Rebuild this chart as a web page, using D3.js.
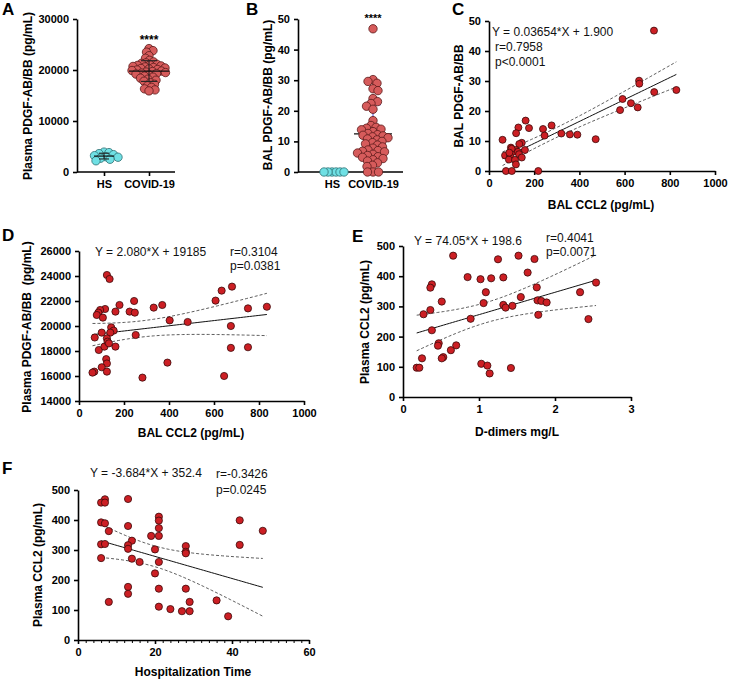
<!DOCTYPE html>
<html><head><meta charset="utf-8">
<script src="https://cdn.jsdelivr.net/npm/d3@7"></script>
<style>body{margin:0;background:#fff} text{font-family:Arial,"Liberation Sans",sans-serif}</style>
</head><body><svg id="c" width="729" height="682"></svg>
<script>
// ---------------- DATA ----------------
const groups = ["HS", "COVID-19"];
const plasmaHS = [2200, 2500, 2700, 2900, 3000, 3200, 3400, 3600, 3800, 3900];
const plasmaCovid = [24200, 23800, 23500, 22800, 22300, 21900, 21600, 21400, 21300, 21100, 21000, 20900, 20800, 20700, 20600, 20500, 20400, 20300, 20200, 20100, 20000, 19900, 19800, 19700, 19600, 19500, 19400, 19300, 19200, 19000, 18800, 18600, 18400, 18200, 18000, 17800, 17500, 17200, 16900, 16600, 16300, 16100, 15900];
const balHS = [0, 0, 0, 0, 0, 0];
const balCovid = [46.8, 30.2, 29.6, 29, 27.2, 26.6, 24, 23, 22.4, 21.5, 20.5, 16.8, 15.2, 14.6, 14.3, 14, 13.8, 13.2, 12.6, 12.2, 12, 11.8, 11.5, 11.2, 10.8, 10.5, 10, 9.6, 9.2, 8.8, 8.2, 7.8, 7.2, 7, 6.8, 6.6, 6.2, 5.8, 5.4, 5, 4.8, 4.4, 4, 3.6, 3, 2.2, 1.8, 0, 0, 0];

// C: BAL CCL2 vs BAL PDGF-AB/BB
const cCCL2 = [730, 664, 665, 731, 829, 591, 628, 580, 658, 162, 277, 239, 177, 130, 120, 320, 358, 391, 246, 60, 472, 145, 134, 97, 159, 119, 106, 128, 71, 93, 133, 145, 88, 115, 119, 75, 101, 218, 100, 90];
const cPDGF = [46.8, 30.1, 29.1, 26.3, 27, 24, 22.6, 20.3, 21.2, 16.8, 15.2, 14, 14.3, 14.5, 12.6, 12.5, 12.2, 12.1, 11.8, 10.4, 10.6, 9.4, 9.0, 7.8, 7, 7, 6.4, 6.4, 5.2, 5, 5.6, 4.5, 3.8, 3.7, 2.2, 0, 0, 0, 7.4, 6.1];

// D: BAL CCL2 vs plasma PDGF-AB/BB
const dCCL2 = [124, 136, 634, 680, 607, 245, 180, 370, 332, 751, 116, 162, 225, 248, 94, 86, 79, 106, 403, 483, 675, 143, 154, 101, 139, 252, 70, 124, 88, 162, 113, 127, 133, 675, 751, 121, 124, 393, 101, 124, 68, 60, 282, 645, 835];
const dPDGF = [24080, 23760, 22830, 23150, 22030, 22000, 21680, 21680, 21470, 21410, 21360, 21150, 21150, 21070, 21280, 21070, 20880, 20670, 20450, 20320, 20000, 19890, 19630, 19470, 19470, 19280, 19080, 19010, 18080, 18350, 18350, 18750, 18610, 18250, 18300, 17350, 17000, 17070, 16700, 16350, 16350, 16270, 15870, 16000, 21540];

// E: D-dimers vs plasma CCL2
const eDdimer = [0.66, 1.25, 1.52, 1.73, 1.64, 0.85, 1.02, 1.16, 1.32, 0.38, 0.36, 1.09, 1.76, 1.55, 0.51, 1.06, 1.32, 1.35, 1.44, 1.77, 1.82, 1.89, 2.33, 2.54, 2.44, 1.78, 0.36, 0.27, 0.89, 0.38, 0.47, 0.46, 0.70, 0.63, 0.53, 0.51, 0.25, 0.18, 0.215, 1.03, 1.11, 1.14, 1.42];
const eCCL2 = [468, 456, 468, 457, 412, 397, 390, 393, 396, 373, 362, 347, 363, 331, 316, 311, 305, 296, 302, 320, 318, 313, 347, 379, 258, 272, 288, 274, 259, 221, 178, 170, 171, 155, 132, 128, 128, 97, 97, 110, 104, 78, 96];

// F: hospitalization time vs plasma CCL2
const fDays = [7, 6, 7, 13, 6, 7, 8, 13, 6, 7, 6, 14, 13, 13, 14, 16, 19, 21, 21, 21, 21, 20, 20, 21, 21, 21, 13, 13, 8, 24, 27, 28, 28, 28, 28, 29, 29, 36, 39, 42, 42, 48];
const fCCL2 = [469, 458, 458, 470, 392, 389, 363, 380, 319, 320, 273, 331, 316, 304, 271, 260, 347, 347, 411, 398, 373, 302, 222, 260, 171, 111, 177, 154, 127, 103, 96, 171, 313, 294, 289, 127, 96, 132, 79, 399, 317, 364];

const xTicksCCL2 = [0, 200, 400, 600, 800, 1000];

// ---------------- DRAW ----------------
const svg = d3.select("#c");
const FONT = "Arial, 'Liberation Sans', sans-serif";
const SCAT_FILL = "#cc1f24", SCAT_STROKE = "#3b0a0a";
const COV_FILL = "#d65b5b", COV_STROKE = "#5a1a1a";
const HS_FILL = "#6fe0e4", HS_STROKE = "#2f6f72";

function styleAxis(g) {
  g.select(".domain").attr("stroke", "#000").attr("stroke-width", 1.6);
  g.selectAll(".tick line").attr("stroke", "#000").attr("stroke-width", 1.6);
  g.selectAll(".tick text").attr("font-family", FONT).attr("font-size", 11)
    .attr("font-weight", "bold").attr("fill", "#000");
}
function label(x, y, t) {
  svg.append("text").attr("x", x).attr("y", y).attr("font-size", 17)
    .attr("font-weight", "bold").attr("font-family", FONT).text(t);
}
function yTitle(x, y, t) {
  svg.append("text").attr("transform", `translate(${x},${y}) rotate(-90)`)
    .attr("text-anchor", "middle").attr("dy", "0.35em").attr("font-size", 12)
    .attr("font-weight", "bold").attr("font-family", FONT)
    .style("white-space", "pre").text(t);
}
function xTitle(x, y, t) {
  svg.append("text").attr("x", x).attr("y", y).attr("text-anchor", "middle")
    .attr("font-size", 12).attr("font-weight", "bold").attr("font-family", FONT).text(t);
}
function plainText(x, y, t) {
  svg.append("text").attr("x", x).attr("y", y).attr("font-size", 12)
    .attr("font-family", FONT).attr("fill", "#111").text(t);
}

function swarm(values, y, cx, dist) {
  const pts = values.map(v => ({ v, y: y(v) })).sort((a, b) => a.y - b.y);
  const placed = [];
  pts.forEach((p, i) => {
    let off = null;
    for (let k = 0; k < 200 && off === null; k++) {
      const s = k * 0.5;
      const cands = k === 0 ? [0] : (i % 2 ? [s, -s] : [-s, s]);
      for (const o of cands) {
        if (placed.every(q => (q.x - (cx + o)) ** 2 + (q.y - p.y) ** 2 >= dist * dist)) { off = o; break; }
      }
    }
    p.x = cx + off; placed.push(p);
  });
  return placed;
}

function meanSD(a) {
  return [d3.mean(a), d3.deviation(a)];
}

// ----- Dot plot panel (A, B)
function dotPanel(o) {
  const y = d3.scaleLinear().domain(o.yDomain).range([o.bottom, o.top]);
  const x = d3.scalePoint().domain(groups).range(o.xPos);
  const ga = svg.append("g").attr("transform", `translate(${o.left},0)`)
    .call(d3.axisLeft(y).tickValues(o.yTicks).tickSize(4).tickPadding(4).tickSizeOuter(0).tickFormat(d3.format("d")));
  styleAxis(ga);
  const gb = svg.append("g").attr("transform", `translate(0,${o.bottom})`)
    .call(d3.axisBottom(x).tickSize(4).tickPadding(4).tickSizeOuter(0));
  styleAxis(gb);
  gb.select(".domain").remove();
  svg.append("line").attr("x1", o.left).attr("x2", o.right).attr("y1", o.bottom).attr("y2", o.bottom)
    .attr("stroke", "#000").attr("stroke-width", 1.6);

  const sets = [[o.hs, HS_FILL, HS_STROKE, o.hsDist], [o.cov, COV_FILL, COV_STROKE, o.covDist]];
  sets.forEach(([vals, fill, stroke, dist], gi) => {
    const cx = x(groups[gi]);
    const [m, sd] = meanSD(vals);
    if (o.barsBehind) drawBars(cx, m, sd, gi);
    const pts = swarm(vals, y, cx, dist);
    svg.append("g").selectAll("circle").data(pts).join("circle")
      .attr("cx", d => d.x).attr("cy", d => d.y).attr("r", o.r)
      .attr("fill", fill).attr("stroke", stroke).attr("stroke-width", 0.8);
    if (!o.barsBehind) drawBars(cx, m, sd, gi);
  });
  function drawBars(cx, m, sd, gi) {
    const g = svg.append("g");
    const col = o.barColor;
    const lo = Math.max(o.yDomain[0], m - sd), hi = m + sd;
    const cw = o.capW[gi], mw = o.meanW[gi];
    if (gi === 1 || !o.barsBehind) {
      g.append("line").attr("x1", cx).attr("x2", cx).attr("y1", y(lo)).attr("y2", y(hi)).attr("stroke", col).attr("stroke-width", 1.1);
      [lo, hi].forEach(v => g.append("line").attr("x1", cx - cw).attr("x2", cx + cw)
        .attr("y1", y(v)).attr("y2", y(v)).attr("stroke", col).attr("stroke-width", 1.1));
    }
    g.append("line").attr("x1", cx - mw).attr("x2", cx + mw).attr("y1", y(m)).attr("y2", y(m))
      .attr("stroke", "#111").attr("stroke-width", 1.2);
  }
  svg.append("text").attr("x", x(groups[1])).attr("y", o.starY).attr("text-anchor", "middle")
    .attr("font-size", o.starSize).attr("font-weight", "bold").attr("font-family", FONT).text("****");
}

dotPanel({ left: 77, right: 175, top: 19, bottom: 172, xPos: [104, 149], yDomain: [0, 30000],
  yTicks: [0, 10000, 20000, 30000], hs: plasmaHS, cov: plasmaCovid, r: 4.2, hsDist: 4.8, covDist: 4.2,
  barColor: "#222", capW: [5, 8], meanW: [10, 20], barsBehind: false, starY: 44, starSize: 12 });
dotPanel({ left: 298, right: 403, top: 19, bottom: 172, xPos: [332, 373], yDomain: [0, 50],
  yTicks: [0, 10, 20, 30, 40, 50], hs: balHS, cov: balCovid, r: 4.2, hsDist: 3.8, covDist: 5.2,
  barColor: "#5b5bd8", capW: [6, 8], meanW: [10, 19], barsBehind: true, starY: 22, starSize: 11 });

// ----- Scatter/regression panel
function scatterPanel(o) {
  const x = d3.scaleLinear().domain(o.xDomain).range([o.left, o.right]);
  const y = d3.scaleLinear().domain(o.yDomain).range([o.bottom, o.top]);
  const ga = svg.append("g").attr("transform", `translate(${o.left},0)`)
    .call(d3.axisLeft(y).tickValues(o.yTicks).tickSize(4).tickPadding(4).tickSizeOuter(0).tickFormat(d3.format("d")));
  styleAxis(ga);
  const gb = svg.append("g").attr("transform", `translate(0,${o.bottom})`)
    .call(d3.axisBottom(x).tickValues(o.xTicks).tickSize(4).tickPadding(4).tickSizeOuter(0).tickFormat(d3.format("d")));
  styleAxis(gb);
  if (o.minor) {
    const gm = svg.append("g").attr("transform", `translate(0,${o.bottom})`)
      .call(d3.axisBottom(x).tickValues(o.minor).tickSize(3).tickFormat(""));
    gm.select(".domain").remove();
    gm.selectAll(".tick line").attr("stroke", "#000").attr("stroke-width", 1);
  }
  // regression + 95% CI
  const xs = o.xs, ys = o.ys, n = xs.length;
  const xbar = d3.mean(xs);
  const sxx = d3.sum(xs, v => (v - xbar) ** 2);
  const s = Math.sqrt(d3.sum(xs.map((v, i) => (ys[i] - (o.a + o.b * v)) ** 2)) / (n - 2));
  const t = 2.02;
  const [xmin, xmax] = d3.extent(xs);
  const grid = d3.range(0, 61).map(i => xmin + (xmax - xmin) * i / 60);
  const fit = v => o.a + o.b * v;
  const half = v => t * s * Math.sqrt(1 / n + (v - xbar) ** 2 / sxx);
  const line = d3.line().x(d => x(d[0])).y(d => y(d[1]));
  svg.append("path").attr("d", line(grid.map(v => [v, fit(v)]))).attr("fill", "none").attr("stroke", "#111").attr("stroke-width", 1);
  [1, -1].forEach(sg => svg.append("path").attr("d", line(grid.map(v => [v, fit(v) + sg * half(v)])))
    .attr("fill", "none").attr("stroke", "#333").attr("stroke-width", 0.8).attr("stroke-dasharray", "3,2"));
  svg.append("g").selectAll("circle").data(xs.map((v, i) => [v, ys[i]])).join("circle")
    .attr("cx", d => x(d[0])).attr("cy", d => y(d[1])).attr("r", o.r || 3.6)
    .attr("fill", SCAT_FILL).attr("stroke", SCAT_STROKE).attr("stroke-width", 0.8);
}

// C
scatterPanel({ left: 489, right: 715, top: 21, bottom: 171, xDomain: [0, 1000], yDomain: [0, 50],
  xTicks: xTicksCCL2, yTicks: [0, 10, 20, 30, 40, 50], xs: cCCL2, ys: cPDGF, a: 1.900, b: 0.03654, r: 3.5 });
// D
scatterPanel({ left: 79, right: 304, top: 251, bottom: 401, xDomain: [0, 1000], yDomain: [14000, 26000],
  xTicks: xTicksCCL2, yTicks: [14000, 16000, 18000, 20000, 22000, 24000, 26000], xs: dCCL2, ys: dPDGF, a: 19185, b: 2.080 });
// E
scatterPanel({ left: 403, right: 631, top: 246, bottom: 397, xDomain: [0, 3], yDomain: [0, 500],
  xTicks: [0, 1, 2, 3], yTicks: [0, 100, 200, 300, 400, 500], xs: eDdimer, ys: eCCL2, a: 198.6, b: 74.05 });
// F
scatterPanel({ left: 78, right: 309, top: 490, bottom: 640, xDomain: [0, 60], yDomain: [0, 500],
  xTicks: [0, 20, 40, 60], yTicks: [0, 100, 200, 300, 400, 500], xs: fDays, ys: fCCL2, a: 352.4, b: -3.684,
  minor: d3.range(2, 60, 2).filter(v => v % 20 !== 0) });

// ----- Text
label(2, 15, "A"); label(246, 15, "B"); label(452, 15, "C");
label(2, 241, "D"); label(352, 242, "E"); label(2, 474, "F");

yTitle(28, 96, "Plasma PDGF-AB/BB (pg/mL)");
yTitle(268, 95, "BAL PDGF-AB/BB (pg/mL)");
yTitle(459, 96, "BAL PDGF-AB/BB");
yTitle(27, 327, "Plasma PDGF-AB/BB  (pg/mL)");
yTitle(365, 322, "Plasma CCL2 (pg/mL)");
yTitle(38, 565, "Plasma CCL2 (pg/mL)");

xTitle(601, 209, "BAL CCL2 (pg/mL)");
xTitle(191, 437, "BAL CCL2 (pg/mL)");
xTitle(517, 436, "D-dimers mg/L");
xTitle(193, 676, "Hospitalization Time");

plainText(492, 36, "Y = 0.03654*X + 1.900");
plainText(495, 51, "r=0.7958");
plainText(495, 66, "p<0.0001");
plainText(95, 256, "Y = 2.080*X + 19185");
plainText(230, 256, "r=0.3104");
plainText(230, 270, "p=0.0381");
plainText(414, 245, "Y = 74.05*X + 198.6");
plainText(546, 242, "r=0.4041");
plainText(546, 256, "p=0.0071");
plainText(90, 477, "Y = -3.684*X + 352.4");
plainText(216, 478, "r=-0.3426");
plainText(216, 494, "p=0.0245");
</script></body></html>
